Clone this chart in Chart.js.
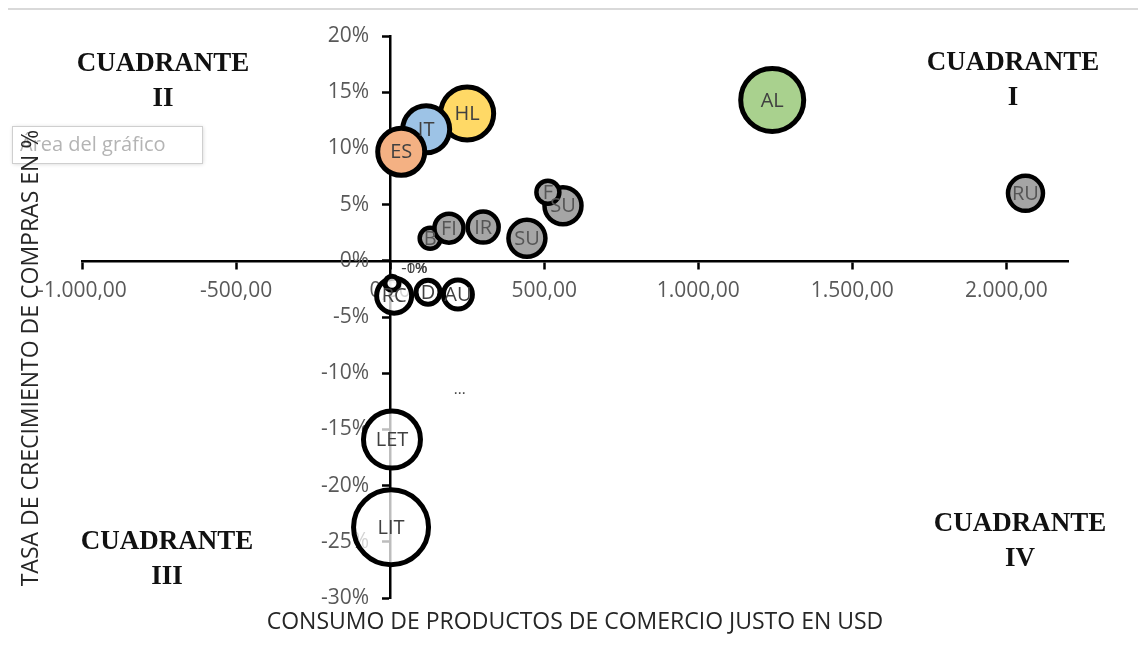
<!DOCTYPE html>
<html lang="es">
<head>
<meta charset="utf-8">
<title>Consumo de comercio justo y crecimiento de compras</title>
<script src="https://cdn.jsdelivr.net/npm/chart.js@4.4.1/dist/chart.umd.min.js"></script>
<style>
  html, body { margin: 0; padding: 0; background: #fff; }
  #wrap { position: relative; width: 1138px; height: 665px; }
</style>
</head>
<body>
<div id="wrap"><canvas id="bubbleChart" width="1138" height="665"></canvas></div>
<script>
// datos (orden = orden de dibujo)
const paises = ["AL", "RU", "HL", "IT", "ES", "SU", "F", "SU", "IR", "B", "FI", "LIT", "LET", "RC", "", "D", "AU"];
const consumoUSD = [1240, 2062, 250, 117, 36, 561, 512, 444, 302, 130, 191, 3, 6, 13, 6, 123, 220];
const crecimiento = [14.3, 6.0, 13.1, 11.7, 9.7, 4.9, 6.1, 2.0, 3.0, 2.0, 2.9, -23.7, -15.9, -3.1, -2.0, -2.8, -3.0];
const tamanoBurbuja = [31.5, 17.5, 26.5, 23.5, 23.5, 18.5, 11.5, 18.5, 15.5, 10.5, 14.5, 37.5, 28.5, 17.5, 7, 12, 14.5];
const grupo = ["verde", "gris", "amarillo", "azul", "naranja", "gris", "gris", "gris", "gris", "gris", "gris",
  "blanco", "blanco", "blanco", "blanco", "blanco", "blanco"];

const xTicks = [-1000, -500, 0, 500, 1000, 1500, 2000];
const yTicks = [-30, -25, -20, -15, -10, -5, 0, 5, 10, 15, 20];

const rellenos = {
  verde: "#a9d18e", amarillo: "#ffd966", azul: "#9dc3e6", naranja: "#f4b183",
  gris: "#a5a5a5", blanco: "rgba(255,255,255,0.74)"
};

// etiquetas sueltas que aparecen en el grafico
const notas = [
  { texto: "-1%", x: 78, y: -0.7 },
  { texto: "-0%", x: 80, y: -0.7 },
  { texto: "...", x: 226, y: -11.5 }
];

function fmtUSD(v) {
  const neg = v < 0;
  const ent = Math.abs(Math.round(v)).toString().replace(/\B(?=(\d{3})+(?!\d))/g, ".");
  return (neg ? "-" : "") + ent + ",00";
}

const puntos = consumoUSD.map((x, i) => ({ x: x, y: crecimiento[i], r: tamanoBurbuja[i] }));

const fondo = {
  id: "fondo",
  beforeDraw(chart) {
    const c = chart.ctx;
    c.save();
    c.fillStyle = "#fff";
    c.fillRect(0, 0, chart.width, chart.height);
    // borde superior del area del grafico
    c.strokeStyle = "#d9d9d9";
    c.lineWidth = 2;
    c.beginPath();
    c.moveTo(8, 9);
    c.lineTo(chart.width, 9);
    c.stroke();
    // cartel "Área del gráfico"
    c.shadowColor = "rgba(0,0,0,0.18)";
    c.shadowBlur = 4;
    c.shadowOffsetX = 1;
    c.shadowOffsetY = 1;
    c.fillStyle = "#fff";
    c.fillRect(12, 126, 190, 37);
    c.shadowColor = "transparent";
    c.strokeStyle = "#cfcfcf";
    c.lineWidth = 1;
    c.strokeRect(12.5, 126.5, 190, 37);
    c.fillStyle = "#b4b4b4";
    c.font = "20px 'Open Sans'";
    c.textBaseline = "middle";
    c.fillText("Área del gráfico", 20, 145);
    c.restore();
  }
};

const rotulos = {
  id: "rotulos",
  afterDatasetsDraw(chart) {
    const c = chart.ctx;
    const meta = chart.getDatasetMeta(0);
    c.save();
    c.font = "20px 'Open Sans'";
    c.textAlign = "center";
    c.textBaseline = "middle";
    meta.data.forEach((el, i) => {
      if (!paises[i]) return;
      c.fillStyle = grupo[i] === "gris" ? "#555" : "#404040";
      c.fillText(paises[i], el.x, el.y + 1);
    });
    const sx = chart.scales.x, sy = chart.scales.y;
    c.font = "15px 'Open Sans'";
    notas.forEach(n => {
      c.fillStyle = "#404040";
      c.fillText(n.texto, sx.getPixelForValue(n.x), sy.getPixelForValue(n.y));
    });
    c.restore();
  },
  afterDraw(chart) {
    const c = chart.ctx;
    const a = chart.chartArea;
    c.save();
    // titulos de ejes
    c.fillStyle = "#262626";
    c.font = "23px 'Open Sans'";
    c.textAlign = "center";
    c.textBaseline = "middle";
    c.fillText("CONSUMO DE PRODUCTOS DE COMERCIO JUSTO EN USD", (a.left + a.right) / 2, a.bottom + 24);
    c.save();
    c.translate(31, a.top + 322);
    c.rotate(-Math.PI / 2);
    c.fillText("TASA DE CRECIMIENTO DE COMPRAS EN %", 0, 0);
    c.restore();
    // cuadrantes
    c.fillStyle = "#111";
    c.font = "bold 27px 'Liberation Serif'";
    const cuad = [
      ["CUADRANTE", "II", 163, 64],
      ["CUADRANTE", "I", 1013, 63],
      ["CUADRANTE", "III", 167, 542],
      ["CUADRANTE", "IV", 1020, 524]
    ];
    cuad.forEach(q => {
      c.fillText(q[0], q[2], q[3]);
      c.fillText(q[1], q[2], q[3] + 35);
    });
    c.restore();
  }
};

new Chart(document.getElementById("bubbleChart").getContext("2d"), {
  type: "bubble",
  data: {
    datasets: [{
      label: "Países",
      data: puntos,
      backgroundColor: grupo.map(g => rellenos[g]),
      borderColor: "#000",
      borderWidth: grupo.map(g => (g === "gris" ? 4.5 : 5)),
      hoverBorderWidth: 5
    }]
  },
  options: {
    responsive: false,
    animation: false,
    events: [],
    layout: { padding: { left: 82, right: 70, top: 36, bottom: 67 }, autoPadding: false },
    plugins: { legend: { display: false }, tooltip: { enabled: false } },
    scales: {
      x: {
        type: "linear",
        min: -1000,
        max: 2200,
        position: { y: 0 },
        afterBuildTicks: s => { s.ticks = xTicks.map(v => ({ value: v })); },
        ticks: {
          callback: v => fmtUSD(v),
          color: "#595959",
          font: { family: "'Open Sans'", size: 21 },
          padding: 11,
          maxRotation: 0,
          autoSkip: false
        },
        grid: { drawOnChartArea: false, drawTicks: true, tickLength: 7, tickColor: "#000", tickWidth: 2.5 },
        border: { display: true, color: "#000", width: 2.5 }
      },
      y: {
        type: "linear",
        min: -30,
        max: 20,
        position: { x: 0 },
        afterBuildTicks: s => { s.ticks = yTicks.map(v => ({ value: v })); },
        ticks: {
          // con posicion centrada Chart.js no aplica el padding: se separa con un espacio eme
          callback: v => v + "%\u2003",
          color: "#595959",
          font: { family: "'Open Sans'", size: 21 },
          padding: 15,
          autoSkip: false
        },
        grid: { drawOnChartArea: false, drawTicks: true, tickLength: 7, tickColor: "#000", tickWidth: 2.5 },
        border: { display: true, color: "#000", width: 2.5 }
      }
    }
  },
  plugins: [fondo, rotulos]
});
</script>
</body>
</html>
